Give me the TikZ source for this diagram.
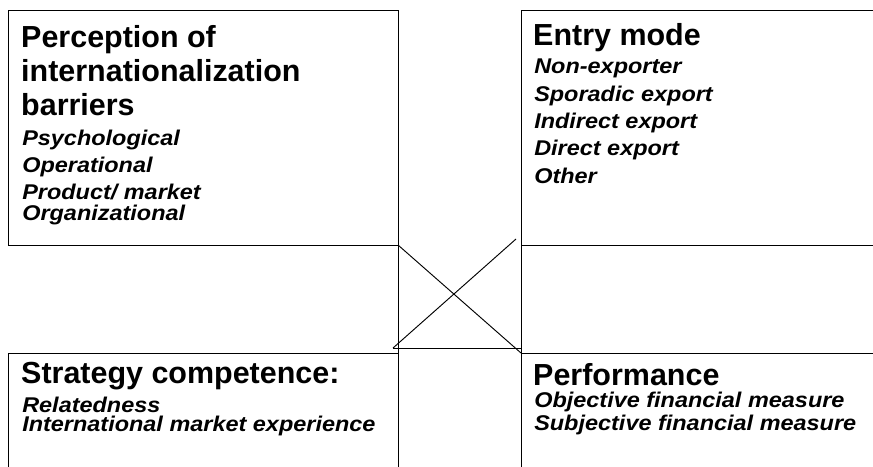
\documentclass[tikz,border=0pt]{standalone}
\usepackage{fontspec}
\setsansfont{Liberation Sans}
\usepackage{tikz}
\usetikzlibrary{positioning}
\tikzset{
  every picture/.style={font=\sffamily},
  panel/.style={draw=black, line width=0.8pt, outer sep=0pt, inner sep=0pt, anchor=north west},
  head/.style={anchor=base west, inner sep=0pt, align=left, font=\sffamily\bfseries\fontsize{26}{29}\selectfont},
  items/.style={anchor=base west, inner sep=0pt, align=left, xscale=1.1, transform shape,
                font=\sffamily\bfseries\itshape\fontsize{18.2}{23.3}\selectfont},
  link/.style={draw=black, line width=0.8pt},
}

\begin{document}
\begin{tikzpicture}[x=0.03cm, y=-0.03cm]
  \useasboundingbox (0,0) rectangle (873,466);
  \clip (0,0) rectangle (873,466);
  \node[panel, minimum width=11.7cm, minimum height=7.05cm] (barriers) at (8,10) {};
  \node[panel, minimum width=11.07cm, minimum height=7.05cm] (entry) at (521,10) {};
  \node[panel, minimum width=11.7cm, minimum height=3.81cm] (strategy) at (8,353) {};
  \node[panel, minimum width=11.07cm, minimum height=3.81cm] (performance) at (521,353) {};
  % multi-line texts sit on the baseline of their last line
  \node[head] (barrhead) at (21,115) {Perception of\\internationalization\\barriers};
  \node[items] (barrlist) at (22,220) {Psychological\\Operational\\Product/ market\\[-6pt]Organizational};
  \node[head] (entryhead) at (533,45) {Entry mode};
  \node[items] (entrylist) at (534,183) {Non-exporter\\Sporadic export\\Indirect export\\Direct export\\Other};
  \node[head] (stratehead) at (21,383) {Strategy competence:};
  \node[items] (stratlist) at (22,431) {Relatedness\\[-7.5pt]International market experience};
  \node[head] (perfhead) at (533,385) {Performance};
  \node[items] (perflist) at (534,430) {Objective financial measure\\[-4.5pt]Subjective financial measure};
  \coordinate (crossa) at (393,348);
  \coordinate (crossb) at (516,239);
  \coordinate (crossc) at (521,348);
  \draw[link] (barriers.south east) -- (strategy.north east); \draw[link] (entry.south west) -- (performance.north west);
  \draw[link] (barriers.south east) -- (performance.north west); \draw[link] (crossa) -- (crossb);
  \draw[link] (crossa) -- (crossc);
\end{tikzpicture}
\end{document}
